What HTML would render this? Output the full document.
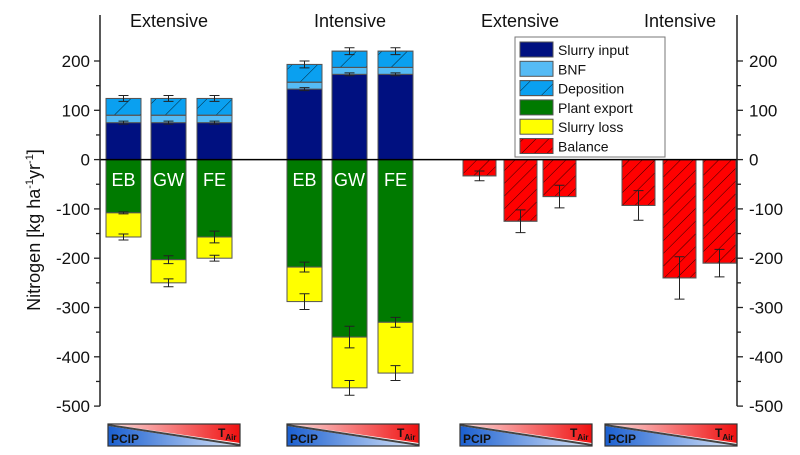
<!DOCTYPE html>
<html><head><meta charset="utf-8"><style>
body{margin:0;background:#fff;}
svg{display:block;font-family:"Liberation Sans",Arial,sans-serif;}
</style></head><body>
<svg id="chart" width="800" height="455" viewBox="0 0 800 455">
<defs>
<pattern id="hatch" patternUnits="userSpaceOnUse" width="9" height="9" patternTransform="rotate(45)">
<line x1="0" y1="0" x2="0" y2="9" stroke="#000" stroke-width="0.8"/></pattern>
<pattern id="hatchB" patternUnits="userSpaceOnUse" width="18" height="18" patternTransform="rotate(45)">
<line x1="0" y1="0" x2="0" y2="18" stroke="#000" stroke-width="0.8"/></pattern>
<linearGradient id="gb" x1="0" x2="1"><stop offset="0" stop-color="#1a5fd0"/><stop offset="1" stop-color="#dce8fa"/></linearGradient>
<linearGradient id="gr" x1="0" x2="1"><stop offset="0" stop-color="#fbe0e0"/><stop offset="1" stop-color="#f01010"/></linearGradient>
</defs>
<g id="marks"></g>
</svg>
<script>
const groupLabels=["Extensive","Intensive","Extensive","Intensive"];
const siteLabels=["EB","GW","FE","EB","GW","FE"];
const slurryInput=[75,75,75,143,173,173];
const bnf=[15,15,15,14,14,14];
const deposition=[34,34,34,36,33,33];
const topErr=[6,6,6,7,7,7];
const inputErr=[3,3,3,3,3,3];
const plantExport=[-108,-203,-157,-218,-360,-330];
const plantErr=[2,8,12,10,22,10];
const slurryLoss=[-49,-47,-43,-70,-103,-103];
const lossErr=[6,8,6,16,15,15];
const balance=[-33,-125,-75,-93,-240,-210];
const balanceErr=[10,23,23,30,43,28];
const yTicks=[200,100,0,-100,-200,-300,-400,-500];

const svg=document.getElementById('chart');
const g=document.getElementById('marks');
const NS='http://www.w3.org/2000/svg';
const y0=159.6, k=0.493;
function Y(v){return y0-v*k;}
function mk(tag,a,p){const e=document.createElementNS(NS,tag);for(const n in a)e.setAttribute(n,a[n]);(p||g).appendChild(e);return e;}
const barX=[106,151,197,287,332,378];
const balX=[463,504,543,622,663,703];
const bw=35, bw2=33;
function rect(x,v1,v2,fill,name,w){
 const r=mk('rect',{x:x,y:Math.min(Y(v1),Y(v2)),width:w||bw,height:Math.abs(Y(v1)-Y(v2)),fill:fill,stroke:'#555','stroke-width':1});
 
 
 return r;}
function err(x,v,e){
 const l=mk('path',{d:`M${x} ${Y(v-e)}V${Y(v+e)}M${x-5} ${Y(v-e)}H${x+5}M${x-5} ${Y(v+e)}H${x+5}`,stroke:'#222','stroke-width':1,fill:'none'});
 
 }
for(let i=0;i<6;i++){
 const x=barX[i], c=x+bw/2;
 const a=slurryInput[i], b=a+bnf[i], d=b+deposition[i];
 rect(x,0,a,'#001080','bar-slurry-input');
 rect(x,a,b,'#55bbf5','bar-bnf');
 rect(x,b,d,'#0aa0f0','bar-deposition');
 const hp=rect(x,b,d,'url(#hatchB)','bar-deposition-hatch');hp.setAttribute('stroke','#555');
 err(c,d,topErr[i]);err(c,a,inputErr[i]);
 const p=plantExport[i], q=p+slurryLoss[i];
 rect(x,0,p,'#007a00','bar-plant-export');
 rect(x,p,q,'#ffff00','bar-slurry-loss');
 err(c,p,plantErr[i]);err(c,q,lossErr[i]);
 const t=mk('text',{x:c,y:186,'text-anchor':'middle','font-size':18,fill:'#fff'});t.textContent=siteLabels[i];
 
 
 const bx=balX[i];
 rect(bx,0,balance[i],'#ff0000','bar-balance',bw2);
 const hb=rect(bx,0,balance[i],'url(#hatch)','bar-balance-hatch',bw2);
 err(bx+bw2/2,balance[i],balanceErr[i]);
}
// zero line
mk('line',{x1:100,x2:737,y1:y0,y2:y0,stroke:'#000','stroke-width':1.5});
// axes
[100,737].forEach((ax,side)=>{
 const a=mk('line',{x1:ax,x2:ax,y1:15,y2:Y(-500),stroke:'#222','stroke-width':1.5});
 
 
 const dir=side?1:-1;
 for(let v=-500;v<=200;v+=50){const major=v%100===0;
  mk('line',{x1:ax,x2:ax+dir*(major?6:4),y1:Y(v),y2:Y(v),stroke:'#222','stroke-width':1.3});}
 yTicks.forEach(v=>{const t=mk('text',{x:side?ax+12:ax-10,y:Y(v)+6,'text-anchor':side?'start':'end','font-size':17,fill:'#111'});t.textContent=v;
  
  });
});
// y title
const yt=mk('text',{transform:'translate(40,230) rotate(-90)','text-anchor':'middle','font-size':18,fill:'#111'});
yt.innerHTML='Nitrogen [kg ha<tspan dy="-7" font-size="11">-1</tspan><tspan dy="7">yr</tspan><tspan dy="-7" font-size="11">-1</tspan><tspan dy="7">]</tspan>';


// group labels
const gx=[169,350,520,680];
groupLabels.forEach((s,i)=>{const t=mk('text',{x:gx[i],y:27,'text-anchor':'middle','font-size':18,fill:'#111'});t.textContent=s;
 
 });
// legend
const lg=mk('g',{});
mk('rect',{x:515,y:37,width:150,height:120,fill:'#fff',stroke:'#777'},lg);
const legItems=[['Slurry input','#001080',0],['BNF','#55bbf5',0],['Deposition','#0aa0f0',1],['Plant export','#007a00',0],['Slurry loss','#ffff00',0],['Balance','#ff0000',2]];
legItems.forEach((it,i)=>{const yy=42+i*19.3;
 mk('rect',{x:520,y:yy,width:33,height:15,fill:it[1],stroke:'#555'},lg);
 if(it[2])mk('rect',{x:520,y:yy,width:33,height:15,fill:it[2]==1?'url(#hatchB)':'url(#hatch)',stroke:'#555'},lg);
 const t=mk('text',{x:558,y:yy+13,'font-size':14,fill:'#111'},lg);t.textContent=it[0];
 
 });
// gradient boxes
[108,287,460,605].forEach(x=>{
 const gg=mk('g',{});
 const w=132,y=424,h=22;
 mk('polygon',{points:`${x},${y+2} ${x},${y+h} ${x+w},${y+h}`,fill:'url(#gb)'},gg);
 mk('polygon',{points:`${x},${y} ${x+w},${y} ${x+w},${y+h-3}`,fill:'url(#gr)'},gg);
 mk('line',{x1:x,y1:y+1,x2:x+w,y2:y+h-1,stroke:'#444','stroke-width':2},gg);
 mk('rect',{x:x,y:y,width:w,height:h,fill:'none',stroke:'#333','stroke-width':1.2},gg);
 const t1=mk('text',{x:x+3,y:y+h-3,'font-size':12,'font-weight':'bold',fill:'#111'},gg);t1.textContent='PCIP';
 const t2=mk('text',{x:x+w-22,y:y+13,'font-size':12,'font-weight':'bold',fill:'#111'},gg);t2.innerHTML='T<tspan font-size="8" dy="3">Air</tspan>';
});
</script>
</body></html>
